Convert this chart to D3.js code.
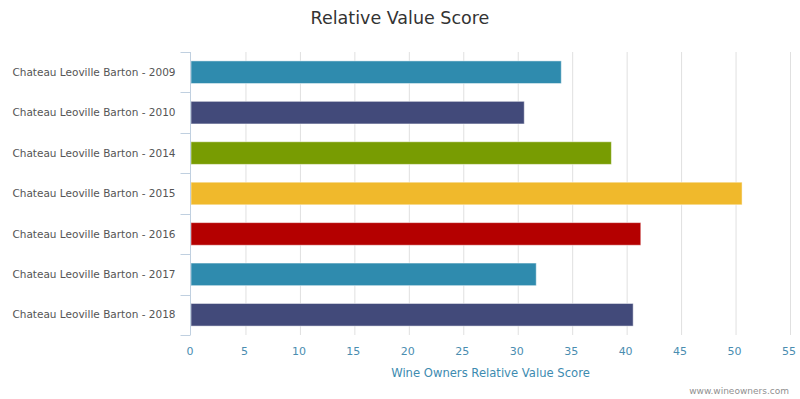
<!DOCTYPE html>
<html><head><meta charset="utf-8">
<script src="https://cdn.jsdelivr.net/npm/d3@7"></script>
<style>body{margin:0;background:#fff}svg{display:block}</style>
</head><body>
<svg id="c" width="800" height="399"></svg>
<script>
const categories = ["Chateau Leoville Barton - 2009","Chateau Leoville Barton - 2010","Chateau Leoville Barton - 2014","Chateau Leoville Barton - 2015","Chateau Leoville Barton - 2016","Chateau Leoville Barton - 2017","Chateau Leoville Barton - 2018"];
const values = [34.0, 30.6, 38.6, 50.6, 41.3, 31.7, 40.6];
const barColors = ["#2f8bae","#424a7a","#789c02","#f0b92c","#b40000","#2f8bae","#424a7a"];
const xTicks = [0,5,10,15,20,25,30,35,40,45,50,55];
const title = "Relative Value Score";
const xTitle = "Wine Owners Relative Value Score";
const credit = "www.wineowners.com";

const font = "'DejaVu Sans', sans-serif";
const svg = d3.select("#c");
const x = d3.scaleLinear().domain([0,55]).range([191,790]);
const y = d3.scaleBand().domain(categories).range([52,335]).padding(0);

// grid
svg.append("g").selectAll("line").data(xTicks.slice(1)).join("line")
  .attr("x1",d=>x(d)+0.5).attr("x2",d=>x(d)+0.5).attr("y1",52).attr("y2",335)
  .attr("stroke","#e0e0e0").attr("stroke-width",1);

// bars
const bh = y.bandwidth()*0.56;
svg.append("g").selectAll("rect").data(values).join("rect")
  .attr("x",x(0)).attr("y",(d,i)=>y(categories[i])+(y.bandwidth()-bh)/2)
  .attr("width",d=>x(d)-x(0)).attr("height",bh)
  .attr("fill",(d,i)=>barColors[i]).attr("stroke","#ffffff").attr("stroke-opacity",0.5).attr("stroke-width",1);

// y axis
const yg = svg.append("g").attr("transform","translate(190.5,0)");
yg.append("line").attr("x1",0).attr("x2",0).attr("y1",52).attr("y2",335).attr("stroke","#c0d0e0");
yg.selectAll("line.tk").data(d3.range(categories.length+1)).join("line").attr("class","tk")
  .attr("x1",-10).attr("x2",0)
  .attr("y1",i=>Math.round(52+i*y.step())+0.5).attr("y2",i=>Math.round(52+i*y.step())+0.5)
  .attr("stroke","#c0d0e0");
yg.selectAll("text").data(categories).join("text")
  .attr("x",-15).attr("y",d=>y(d)+y.bandwidth()/2).attr("dy","0.35em")
  .attr("text-anchor","end").attr("font-family",font).attr("font-size",10.5).attr("fill","#555")
  .text(d=>d);

// x axis labels
svg.append("g").selectAll("text").data(xTicks).join("text")
  .attr("x",d=>x(d)-1).attr("y",355).attr("text-anchor","middle")
  .attr("font-family",font).attr("font-size",11).attr("fill","#4a8db0").text(d=>d);

svg.append("text").attr("x",x(0)+ (x(55)-x(0))/2).attr("y",377).attr("text-anchor","middle")
  .attr("font-family",font).attr("font-size",11.6).attr("fill","#3d8bb0").text(xTitle);

svg.append("text").attr("x",400).attr("y",24).attr("text-anchor","middle")
  .attr("font-family",font).attr("font-size",17.5).attr("fill","#333").text(title);

svg.append("text").attr("x",789).attr("y",394).attr("text-anchor","end")
  .attr("font-family",font).attr("font-size",9).attr("fill","#909090").text(credit);
</script>
</body></html>
